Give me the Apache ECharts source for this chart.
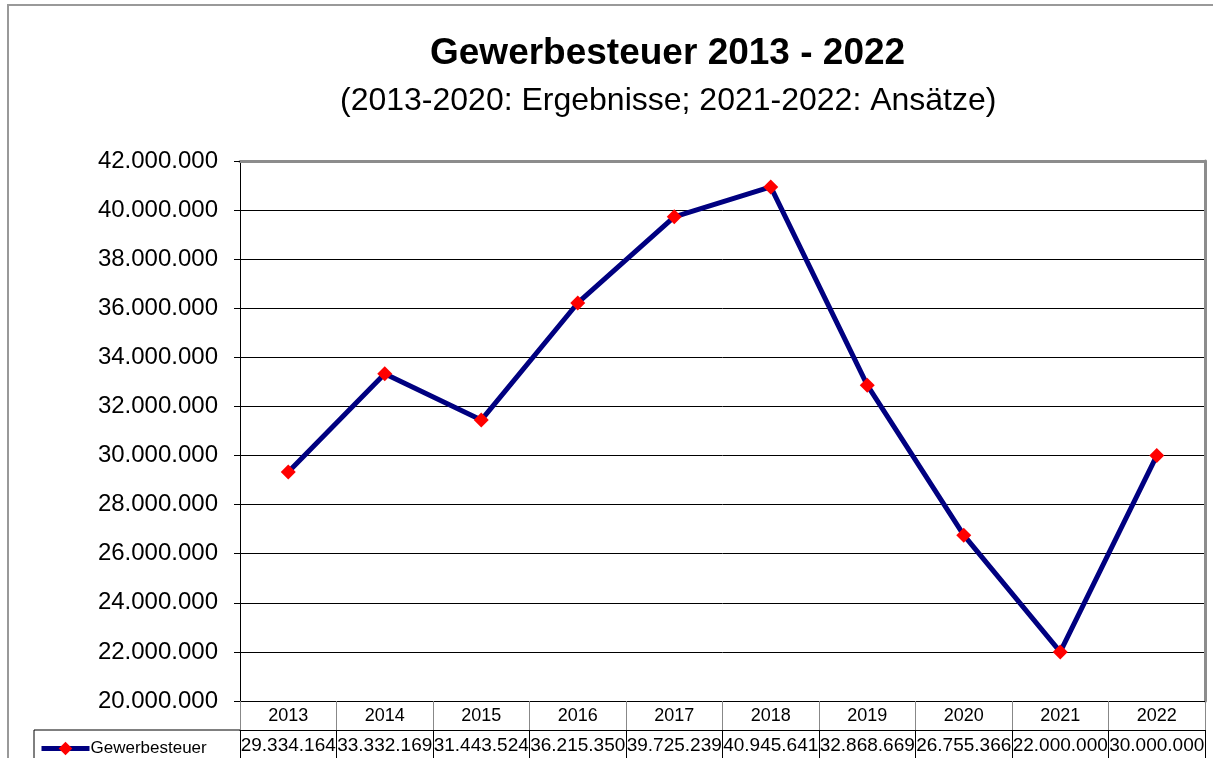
<!DOCTYPE html>
<html>
<head>
<meta charset="utf-8">
<script src="https://cdn.jsdelivr.net/npm/echarts@6/dist/echarts.min.js"></script>
<style>
  html, body { margin: 0; padding: 0; background: #fff; }
  #chart { width: 1213px; height: 758px; }
</style>
</head>
<body>
<div id="chart"></div>
<script>
const years = ['2013', '2014', '2015', '2016', '2017', '2018', '2019', '2020', '2021', '2022']
const gewerbesteuer = [29334164, 33332169, 31443524, 36215350, 39725239, 40945641, 32868669, 26755366, 22000000, 30000000]
const seriesName = 'Gewerbesteuer'

const font = 'Liberation Sans, Arial, sans-serif'

// 1.234.567 style
function fmt(v) {
  return String(Math.round(v)).replace(/\B(?=(\d{3})+(?!\d))/g, '.')
}

const chart = echarts.init(document.getElementById('chart'))
chart.setOption({
  animation: false,
  backgroundColor: '#fff',
  title: [{
    text: 'Gewerbesteuer 2013 - 2022',
    left: 425,
    top: 30,
    textStyle: { fontFamily: font, fontSize: 37, fontWeight: 'bold', color: '#000' }
  }, {
    text: '(2013-2020: Ergebnisse; 2021-2022: Ansätze)',
    left: 335,
    top: 80,
    textStyle: { fontFamily: font, fontSize: 32, fontWeight: 'normal', color: '#000' }
  }],
  legend: {
    data: [seriesName],
    left: 34,
    top: 735,
    itemWidth: 48,
    itemHeight: 17,
    itemGap: 4,
    lineStyle: { width: 5 },
    textStyle: { fontFamily: font, fontSize: 17, color: '#000', padding: [0, 0, 0, -4] }
  },
  grid: {
    left: 240,
    top: 161,
    width: 965,
    height: 540
  },
  xAxis: [{
    // header row of the data table
    type: 'category',
    data: years,
    position: 'bottom',
    boundaryGap: true,
    axisLine: { show: true, lineStyle: { color: '#000', width: 1 } },
    axisTick: { show: true, interval: 0, length: 29, lineStyle: { color: '#888' } },
    axisLabel: { interval: 0, margin: 6, fontFamily: font, fontSize: 18, color: '#000' },
    splitLine: { show: false }
  }, {
    // value row of the data table
    type: 'category',
    data: years,
    position: 'bottom',
    offset: 29,
    boundaryGap: true,
    axisLine: { show: true, lineStyle: { color: '#000', width: 1 } },
    axisTick: { show: true, interval: 0, length: 40, lineStyle: { color: '#000' } },
    axisLabel: {
      interval: 0,
      margin: 6,
      fontFamily: font,
      fontSize: 19,
      color: '#000',
      formatter: (v, i) => fmt(gewerbesteuer[i])
    },
    splitLine: { show: false }
  }, {
    // plot frame top
    type: 'category',
    data: years,
    position: 'top',
    axisLine: { show: true, lineStyle: { color: '#8c8c8c', width: 3 } },
    axisTick: { show: false },
    axisLabel: { show: false }
  }],
  yAxis: [{
    type: 'value',
    min: 20000000,
    max: 42000000,
    interval: 2000000,
    axisLine: { show: true, lineStyle: { color: '#000', width: 1 } },
    axisTick: { show: true, length: 6, lineStyle: { color: '#000' } },
    axisLabel: { margin: 22, fontFamily: font, fontSize: 24, color: '#000', formatter: fmt },
    splitLine: { show: true, lineStyle: { color: '#000', width: 1 } }
  }, {
    // plot frame right
    type: 'value',
    position: 'right',
    min: 20000000,
    max: 42000000,
    interval: 2000000,
    axisLine: { show: true, lineStyle: { color: '#8c8c8c', width: 3 } },
    axisTick: { show: false },
    axisLabel: { show: false },
    splitLine: { show: false }
  }],
  graphic: [{
    // outer chart frame
    type: 'rect',
    shape: { x: 8, y: 5, width: 1240, height: 800 },
    style: { fill: null, stroke: '#999', lineWidth: 2 },
    silent: true
  }, {
    // legend cell of the table
    type: 'polyline',
    shape: { points: [[34, 760], [34, 730], [240, 730]] },
    style: { fill: null, stroke: '#000', lineWidth: 1 },
    silent: true
  }],
  series: [{
    name: seriesName,
    type: 'line',
    data: gewerbesteuer,
    xAxisIndex: 0,
    yAxisIndex: 0,
    symbol: 'diamond',
    symbolSize: 15,
    lineStyle: { color: '#000080', width: 5 },
    itemStyle: { color: '#ff0000' },
    z: 3
  }]
})
</script>
</body>
</html>
